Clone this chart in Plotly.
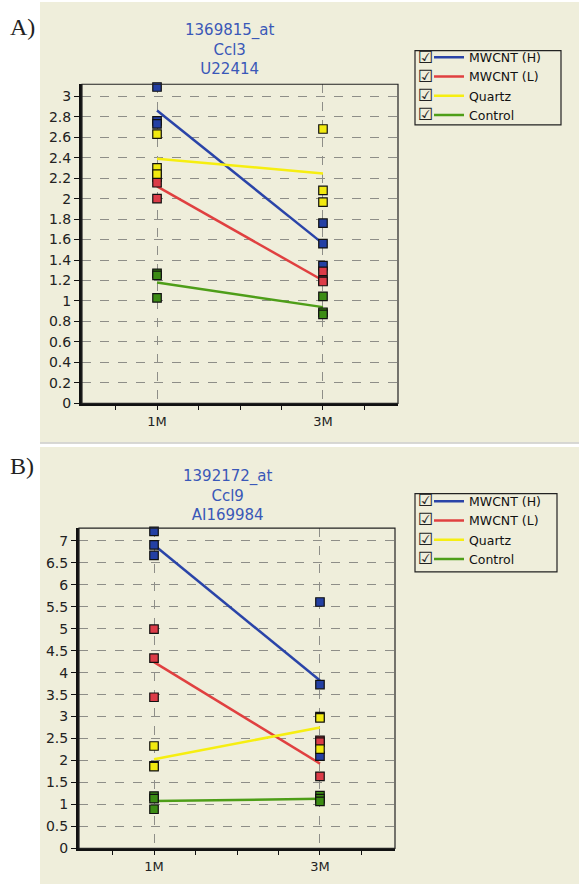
import plotly.graph_objects as go

W, H = 579, 892

x_cats = ["1M", "3M"]
series_names = ["MWCNT (H)", "MWCNT (L)", "Quartz", "Control"]

# Panel A: 1369815_at / Ccl3 / U22414
a_title = "1369815_at<br>Ccl3<br>U22414"
a_h_1m = [3.09, 2.76, 2.73]
a_h_3m = [1.76, 1.56, 1.345]
a_l_1m = [2.21, 2.155, 2.0]
a_l_3m = [1.29, 1.20, 1.19]
a_q_1m = [2.63, 2.30, 2.24]
a_q_3m = [2.68, 2.08, 1.965]
a_c_1m = [1.27, 1.25, 1.03]
a_c_3m = [1.045, 0.89, 0.87]
a_h_line = [2.86, 1.56]
a_l_line = [2.12, 1.20]
a_q_line = [2.39, 2.245]
a_c_line = [1.18, 0.94]
a_yticks = [0, 0.2, 0.4, 0.6, 0.8, 1, 1.2, 1.4, 1.6, 1.8, 2, 2.2, 2.4, 2.6, 2.8, 3]

# Panel B: 1392172_at / Ccl9 / AI169984
b_title = "1392172_at<br>Ccl9<br>AI169984"
b_h_1m = [7.22, 6.91, 6.67]
b_h_3m = [5.61, 3.73, 2.10]
b_l_1m = [4.99, 4.33, 3.44]
b_l_3m = [2.46, 2.42, 1.64]
b_q_1m = [2.33, 1.88, 1.86]
b_q_3m = [3.00, 2.97, 2.26]
b_c_1m = [1.19, 1.13, 0.89]
b_c_3m = [1.20, 1.13, 1.07]
b_h_line = [6.91, 3.82]
b_l_line = [4.24, 1.93]
b_q_line = [2.03, 2.75]
b_c_line = [1.075, 1.13]
b_yticks = [0, 0.5, 1, 1.5, 2, 2.5, 3, 3.5, 4, 4.5, 5, 5.5, 6, 6.5, 7]

line_colors = ["#2a44a8", "#e04040", "#f6ee10", "#4e9e18"]
marker_colors = ["#2440a4", "#dc3c48", "#f2ea10", "#3c8c14"]

BG = "#efeedb"

fig = go.Figure()


def px_x(p):
    return p / W


def px_y(p):
    return 1 - p / H


panels = [
    dict(sfx="", leg="legend",
         pts=[(a_h_1m, a_h_3m), (a_l_1m, a_l_3m), (a_q_1m, a_q_3m), (a_c_1m, a_c_3m)],
         lines=[a_h_line, a_l_line, a_q_line, a_c_line]),
    dict(sfx="2", leg="legend2",
         pts=[(b_h_1m, b_h_3m), (b_l_1m, b_l_3m), (b_q_1m, b_q_3m), (b_c_1m, b_c_3m)],
         lines=[b_h_line, b_l_line, b_q_line, b_c_line]),
]

xidx = [0, 1]
for p in panels:
    xa = "x" + p["sfx"]
    ya = "y" + p["sfx"]
    for i, name in enumerate(series_names):
        fig.add_trace(go.Scatter(
            x=xidx, y=p["lines"][i], mode="lines", name=name,
            line=dict(color=line_colors[i], width=2.5),
            xaxis=xa, yaxis=ya, legend=p["leg"], hoverinfo="skip"))
    for i, name in enumerate(series_names):
        v1, v3 = p["pts"][i]
        xs = [xidx[0]] * len(v1) + [xidx[1]] * len(v3)
        ys = list(v1) + list(v3)
        fig.add_trace(go.Scatter(
            x=xs, y=ys, mode="markers", name=name, showlegend=False,
            marker=dict(symbol="square", size=8.5, color=marker_colors[i],
                        line=dict(color="#111111", width=1.2)),
            xaxis=xa, yaxis=ya, cliponaxis=False))

grid = dict(gridcolor="#8e8e88", griddash="dash", gridwidth=1)
axfont = dict(family="DejaVu Sans", size=14, color="#222222")


def xaxis_cfg(domain, anchor):
    return dict(domain=domain, anchor=anchor, range=[-0.452, 1.452],
                tickmode="array", tickvals=xidx, ticktext=x_cats,
                ticks="outside", ticklen=4, tickcolor="#111111",
                showline=True, linecolor="#111111", linewidth=3,
                showgrid=True, zeroline=False,
                tickfont=dict(family="DejaVu Sans", size=13, color="#222222"),
                minor=dict(dtick=0.25, tick0=0, ticks="outside", ticklen=4,
                           tickcolor="#111111", showgrid=False),
                fixedrange=True, **grid)


def yaxis_cfg(domain, anchor, rng, tv):
    return dict(domain=domain, anchor=anchor, range=rng,
                tickmode="array", tickvals=tv,
                ticks="outside", ticklen=5, tickcolor="#111111",
                showline=True, linecolor="#111111", linewidth=3,
                showgrid=True, zeroline=False, tickfont=axfont,
                fixedrange=True, **grid)


legend_common = dict(
    bgcolor="rgba(0,0,0,0)", borderwidth=0,
    font=dict(family="DejaVu Sans", size=12.5, color="#111111"),
    xanchor="left", yanchor="top", tracegroupgap=0, indentation=12,
)

fig.update_layout(
    width=W, height=H, margin=dict(l=0, r=0, t=0, b=0),
    paper_bgcolor="white", plot_bgcolor=BG,
    xaxis=xaxis_cfg([px_x(82), px_x(398)], "y"),
    yaxis=yaxis_cfg([px_y(407), px_y(85)], "x", [0, 3.117], a_yticks),
    xaxis2=xaxis_cfg([px_x(79), px_x(395)], "y2"),
    yaxis2=yaxis_cfg([px_y(856), px_y(533)], "x2", [0, 7.29], b_yticks),
    legend=dict(x=px_x(417), y=px_y(43), **legend_common),
    legend2=dict(x=px_x(417), y=px_y(491), **legend_common),
    showlegend=True,
)

shapes = [
    dict(type="rect", xref="paper", yref="paper", layer="below",
         x0=px_x(40), x1=1, y0=px_y(446), y1=px_y(2),
         fillcolor=BG, line=dict(width=0)),
    dict(type="rect", xref="paper", yref="paper", layer="below",
         x0=px_x(40), x1=1, y0=0, y1=px_y(451),
         fillcolor=BG, line=dict(width=0)),
    dict(type="line", xref="paper", yref="paper", x0=px_x(40), x1=1,
         y0=px_y(447), y1=px_y(447), line=dict(color="#b0b0a8", width=1)),
    dict(type="rect", xref="x domain", yref="y domain", x0=0, x1=1, y0=0, y1=1,
         line=dict(color="#222222", width=1.2)),
    dict(type="rect", xref="x2 domain", yref="y2 domain", x0=0, x1=1, y0=0, y1=1,
         line=dict(color="#222222", width=1.2)),
    # legend frames
    dict(type="rect", xref="paper", yref="paper",
         x0=px_x(415), x1=px_x(561), y0=px_y(126), y1=px_y(51),
         line=dict(color="#222222", width=1.2)),
    dict(type="rect", xref="paper", yref="paper",
         x0=px_x(415), x1=px_x(557), y0=px_y(577), y1=px_y(498),
         line=dict(color="#222222", width=1.2)),
]
fig.update_layout(shapes=shapes)

ann = [
    dict(text="A)", x=px_x(8), y=px_y(27), xref="paper", yref="paper",
         xanchor="left", yanchor="middle", showarrow=False,
         font=dict(family="Liberation Serif", size=24, color="#222222")),
    dict(text="B)", x=px_x(8), y=px_y(470), xref="paper", yref="paper",
         xanchor="left", yanchor="middle", showarrow=False,
         font=dict(family="Liberation Serif", size=24, color="#222222")),
    dict(text=a_title, x=px_x(229), y=px_y(50), xref="paper", yref="paper",
         xanchor="center", yanchor="middle", showarrow=False,
         font=dict(family="DejaVu Sans", size=15, color="#3a58b8")),
    dict(text=b_title, x=px_x(227), y=px_y(500), xref="paper", yref="paper",
         xanchor="center", yanchor="middle", showarrow=False,
         font=dict(family="DejaVu Sans", size=15, color="#3a58b8")),
]
for yc in [58, 77, 96, 115]:
    ann.append(dict(text="☑", x=px_x(426), y=px_y(yc), xref="paper", yref="paper",
                    xanchor="center", yanchor="middle", showarrow=False,
                    font=dict(family="DejaVu Sans", size=17, color="#222222")))
for yc in [505, 524, 544, 563]:
    ann.append(dict(text="☑", x=px_x(426), y=px_y(yc), xref="paper", yref="paper",
                    xanchor="center", yanchor="middle", showarrow=False,
                    font=dict(family="DejaVu Sans", size=17, color="#222222")))
fig.update_layout(annotations=ann)

fig.write_html("out.html")
